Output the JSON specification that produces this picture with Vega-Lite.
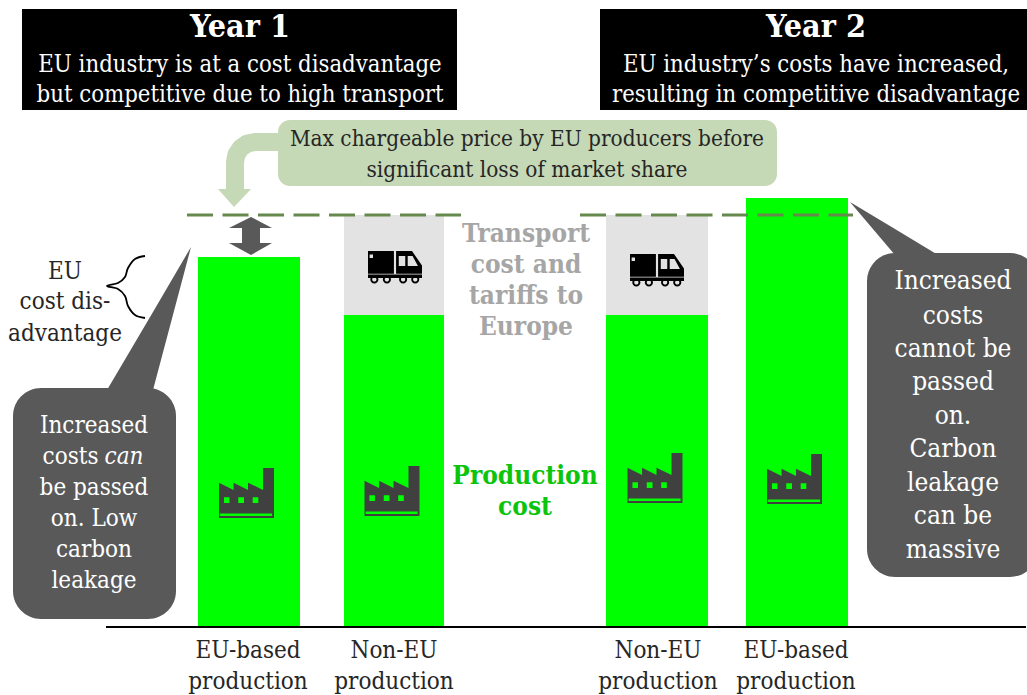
{
"$schema":"https://vega.github.io/schema/vega-lite/v6.json",
"autosize":{"type":"fit","contains":"padding"},
"width":1027,"height":695,"padding":0,"background":"white",
"config":{"view":{"stroke":null},"text":{"font":"DejaVu Serif Condensed"}},
"datasets":{
"bars":[
{"x":198,"x2":300,"y":0,"y2":370,"kind":"Production cost"},
{"x":344,"x2":444,"y":0,"y2":312,"kind":"Production cost"},
{"x":344,"x2":444,"y":312,"y2":412,"kind":"Transport cost and tariffs"},
{"x":606,"x2":708,"y":0,"y2":312,"kind":"Production cost"},
{"x":606,"x2":708,"y":312,"y2":412,"kind":"Transport cost and tariffs"},
{"x":746,"x2":848,"y":0,"y2":429,"kind":"Production cost"}],
"darkpolys":[
{"id":"tail1","x":107,"y":237,"y2":237},
{"id":"tail1","x":153,"y":315,"y2":237},
{"id":"tail1","x":191,"y":380,"y2":380},
{"id":"tail2","x":850,"y":425,"y2":425},
{"id":"tail2","x":895,"y":398,"y2":372},
{"id":"tail2","x":938,"y":372,"y2":372},
{"id":"up","x":229,"y":399,"y2":399},
{"id":"up","x":251,"y":410,"y2":399},
{"id":"up","x":272,"y":399,"y2":399},
{"id":"down","x":229,"y":384,"y2":384},
{"id":"down","x":251,"y":384,"y2":372},
{"id":"down","x":272,"y":384,"y2":384}],
"lightpolys":[
{"id":"head","x":218,"y":438,"y2":438},
{"id":"head","x":234,"y":438,"y2":420},
{"id":"head","x":251,"y":438,"y2":438}],
"elbow":[
{"i":1,"x":285,"y":485},{"i":2,"x":255,"y":485},{"i":3,"x":247.3,"y":483.5},{"i":4,"x":240.9,"y":479.1},{"i":5,"x":236.5,"y":472.7},{"i":6,"x":235,"y":465},{"i":7,"x":235,"y":437}],
"brace":[
{"i":1,"x":145,"y":371},{"i":2,"x":135,"y":368},{"i":3,"x":128,"y":359},{"i":4,"x":125,"y":350},{"i":5,"x":118,"y":344},{"i":6,"x":107,"y":341},{"i":7,"x":118,"y":338},{"i":8,"x":125,"y":331},{"i":9,"x":128,"y":321},{"i":10,"x":135,"y":312},{"i":11,"x":145,"y":309}],
"factories":[{"x":246.5,"y":134},{"x":392,"y":136},{"x":655,"y":149},{"x":794.5,"y":148}],
"trucks":[{"x":395,"y":360},{"x":657,"y":357}]
},
"encoding":{
"x":{"field":"x","type":"quantitative","scale":{"domain":[0,1027],"nice":false,"zero":false},"axis":null},
"y":{"field":"y","type":"quantitative","scale":{"domain":[-68,627],"nice":false,"zero":false},"axis":null}
},
"layer":[
{"data":{"values":[{"x":22,"x2":457,"y":618,"y2":517},{"x":600,"x2":1027,"y":618,"y2":517}]},
 "mark":{"type":"rect","color":"#000000"},"encoding":{"x2":{"field":"x2"},"y2":{"field":"y2"}}},
{"data":{"name":"bars"},"mark":{"type":"rect"},
 "encoding":{"x2":{"field":"x2"},"y2":{"field":"y2"},"color":{"field":"kind","type":"nominal","legend":null,"scale":{"domain":["Production cost","Transport cost and tariffs"],"range":["#00ff00","#e3e3e3"]}}}},
{"data":{"values":[{"x":278,"x2":777,"y":507,"y2":441}]},
 "mark":{"type":"rect","color":"#c5d9b7","cornerRadius":12},"encoding":{"x2":{"field":"x2"},"y2":{"field":"y2"}}},
{"data":{"name":"elbow"},"mark":{"type":"line","color":"#c5d9b7","strokeWidth":18,"strokeCap":"butt","strokeJoin":"round"},
 "encoding":{"order":{"field":"i","type":"quantitative"}}},
{"data":{"values":[{"x":13,"x2":176,"y":239,"y2":8},{"x":867,"x2":1038,"y":374,"y2":50}]},
 "mark":{"type":"rect","color":"#595959","cornerRadius":28,"clip":true},"encoding":{"x2":{"field":"x2"},"y2":{"field":"y2"}}},
{"data":{"values":[{"x":242,"x2":260,"y":399,"y2":384}]},
 "mark":{"type":"rect","color":"#595959"},"encoding":{"x2":{"field":"x2"},"y2":{"field":"y2"}}},
{"data":{"name":"darkpolys"},"mark":{"type":"area","interpolate":"linear","color":"#595959"},
 "encoding":{"y2":{"field":"y2"},"detail":{"field":"id"}}},
{"data":{"name":"lightpolys"},"mark":{"type":"area","interpolate":"linear","color":"#c5d9b7"},
 "encoding":{"y2":{"field":"y2"},"detail":{"field":"id"}}},
{"data":{"values":[{"x":187,"x2":461,"y":412},{"x":580,"x2":853,"y":412}]},
 "mark":{"type":"rule","color":"#668a4d","strokeWidth":3,"strokeDash":[26,9.5]},"encoding":{"x2":{"field":"x2"}}},
{"data":{"values":[{"x":106,"x2":1026,"y":0}]},
 "mark":{"type":"rule","color":"#000000","strokeWidth":2},"encoding":{"x2":{"field":"x2"}}},
{"data":{"name":"brace"},"mark":{"type":"line","color":"#000000","strokeWidth":1.8,"interpolate":"cardinal"},
 "encoding":{"order":{"field":"i","type":"quantitative"}}},
{"data":{"name":"factories"},"mark":{"type":"point","filled":true,"opacity":1,"size":3025,"color":"#404040",
 "shape":"M-1 -0.375 L-0.47 -0.11 V-0.375 L0.055 -0.11 V-0.375 L0.6 -0.11 V-0.91 H1 V0.91 H-1 Z M-0.82 0.155 V0.365 H-0.62 V0.155 Z M-0.3 0.155 V0.365 H-0.09 V0.155 Z M0.225 0.155 V0.365 H0.43 V0.155 Z M-0.96 0.745 V0.835 H0.93 V0.745 Z"}},
{"data":{"name":"trucks"},"mark":{"type":"point","filled":true,"opacity":1,"size":2916,"color":"#000000",
 "shape":"M-1 -0.59 H-0.04 V0.25 H-1 Z M-0.94 -0.46 V-0.33 H-0.815 V-0.46 Z M0.04 -0.59 H0.63 L1 -0.06 V0.25 H0.04 Z M0.14 -0.41 V-0.04 H0.38 V-0.41 Z M0.47 -0.41 V-0.04 H0.85 L0.65 -0.41 Z M-1 0.28 H1 V0.41 H-1 Z M-0.915 0.46 A0.15 0.15 0 1 1 -0.615 0.46 A0.15 0.15 0 1 1 -0.915 0.46 Z M-0.845 0.46 A0.08 0.08 0 1 0 -0.685 0.46 A0.08 0.08 0 1 0 -0.845 0.46 Z M-0.45 0.46 A0.15 0.15 0 1 1 -0.15 0.46 A0.15 0.15 0 1 1 -0.45 0.46 Z M-0.38 0.46 A0.08 0.08 0 1 0 -0.22 0.46 A0.08 0.08 0 1 0 -0.38 0.46 Z M0.15 0.46 A0.15 0.15 0 1 1 0.45 0.46 A0.15 0.15 0 1 1 0.15 0.46 Z M0.22 0.46 A0.08 0.08 0 1 0 0.38 0.46 A0.08 0.08 0 1 0 0.22 0.46 Z M0.6 0.46 A0.15 0.15 0 1 1 0.9 0.46 A0.15 0.15 0 1 1 0.6 0.46 Z M0.67 0.46 A0.08 0.08 0 1 0 0.83 0.46 A0.08 0.08 0 1 0 0.67 0.46 Z"}},
{"data":{"values":[{"x":240,"y":600,"label":"Year 1"},{"x":816,"y":600,"label":"Year 2"}]},
 "mark":{"type":"text","color":"#ffffff","fontSize":32,"fontWeight":"bold","baseline":"middle"},"encoding":{"text":{"field":"label"}}},
{"data":{"values":[{"x":240,"y":562,"label":"EU industry is at a cost disadvantage"},{"x":240,"y":532,"label":"but competitive due to high transport"},{"x":816,"y":562,"label":"EU industry’s costs have increased,"},{"x":816,"y":532,"label":"resulting in competitive disadvantage"}]},
 "mark":{"type":"text","color":"#ffffff","fontSize":23.7,"baseline":"middle"},"encoding":{"text":{"field":"label"}}},
{"data":{"values":[{"x":527,"y":488,"label":"Max chargeable price by EU producers before"},{"x":527,"y":457,"label":"significant loss of market share"}]},
 "mark":{"type":"text","color":"#262626","fontSize":22.4,"baseline":"middle"},"encoding":{"text":{"field":"label"}}},
{"data":{"values":[{"x":65,"y":355,"label":"EU"},{"x":65,"y":325,"label":"cost dis-"},{"x":65,"y":293,"label":"advantage"},{"x":248,"y":-24,"label":"EU-based"},{"x":248,"y":-55,"label":"production"},{"x":394,"y":-24,"label":"Non-EU"},{"x":394,"y":-55,"label":"production"},{"x":658,"y":-24,"label":"Non-EU"},{"x":658,"y":-55,"label":"production"},{"x":796,"y":-24,"label":"EU-based"},{"x":796,"y":-55,"label":"production"}]},
 "mark":{"type":"text","color":"#262626","fontSize":24,"baseline":"middle"},"encoding":{"text":{"field":"label"}}},
{"data":{"values":[{"x":94,"y":201,"label":"Increased"},{"x":70.5,"y":170,"label":"costs"},{"x":94,"y":139,"label":"be passed"},{"x":94,"y":108,"label":"on. Low"},{"x":94,"y":77,"label":"carbon"},{"x":94,"y":46,"label":"leakage"}]},
 "mark":{"type":"text","color":"#ffffff","fontSize":24,"baseline":"middle"},"encoding":{"text":{"field":"label"}}},
{"data":{"values":[{"x":953,"y":346,"label":"Increased"},{"x":953,"y":311,"label":"costs"},{"x":953,"y":278,"label":"cannot be"},{"x":953,"y":245,"label":"passed"},{"x":953,"y":211,"label":"on."},{"x":953,"y":178,"label":"Carbon"},{"x":953,"y":144,"label":"leakage"},{"x":953,"y":111,"label":"can be"},{"x":953,"y":77,"label":"massive"}]},
 "mark":{"type":"text","color":"#ffffff","fontSize":26,"baseline":"middle"},"encoding":{"text":{"field":"label"}}},
{"data":{"values":[{"x":124,"y":170,"label":"can"}]},
 "mark":{"type":"text","color":"#ffffff","fontSize":24,"fontStyle":"italic","baseline":"middle"},"encoding":{"text":{"field":"label"}}},
{"data":{"values":[{"x":526,"y":393,"label":"Transport"},{"x":526,"y":362,"label":"cost and"},{"x":526,"y":331,"label":"tariffs to"},{"x":526,"y":300,"label":"Europe"}]},
 "mark":{"type":"text","color":"#a6a6a6","fontSize":26,"fontWeight":"bold","baseline":"middle"},"encoding":{"text":{"field":"label"}}},
{"data":{"values":[{"x":525,"y":151,"label":"Production"},{"x":525,"y":120,"label":"cost"}]},
 "mark":{"type":"text","color":"#0cc40c","fontSize":26,"fontWeight":"bold","baseline":"middle"},"encoding":{"text":{"field":"label"}}}
]
}
